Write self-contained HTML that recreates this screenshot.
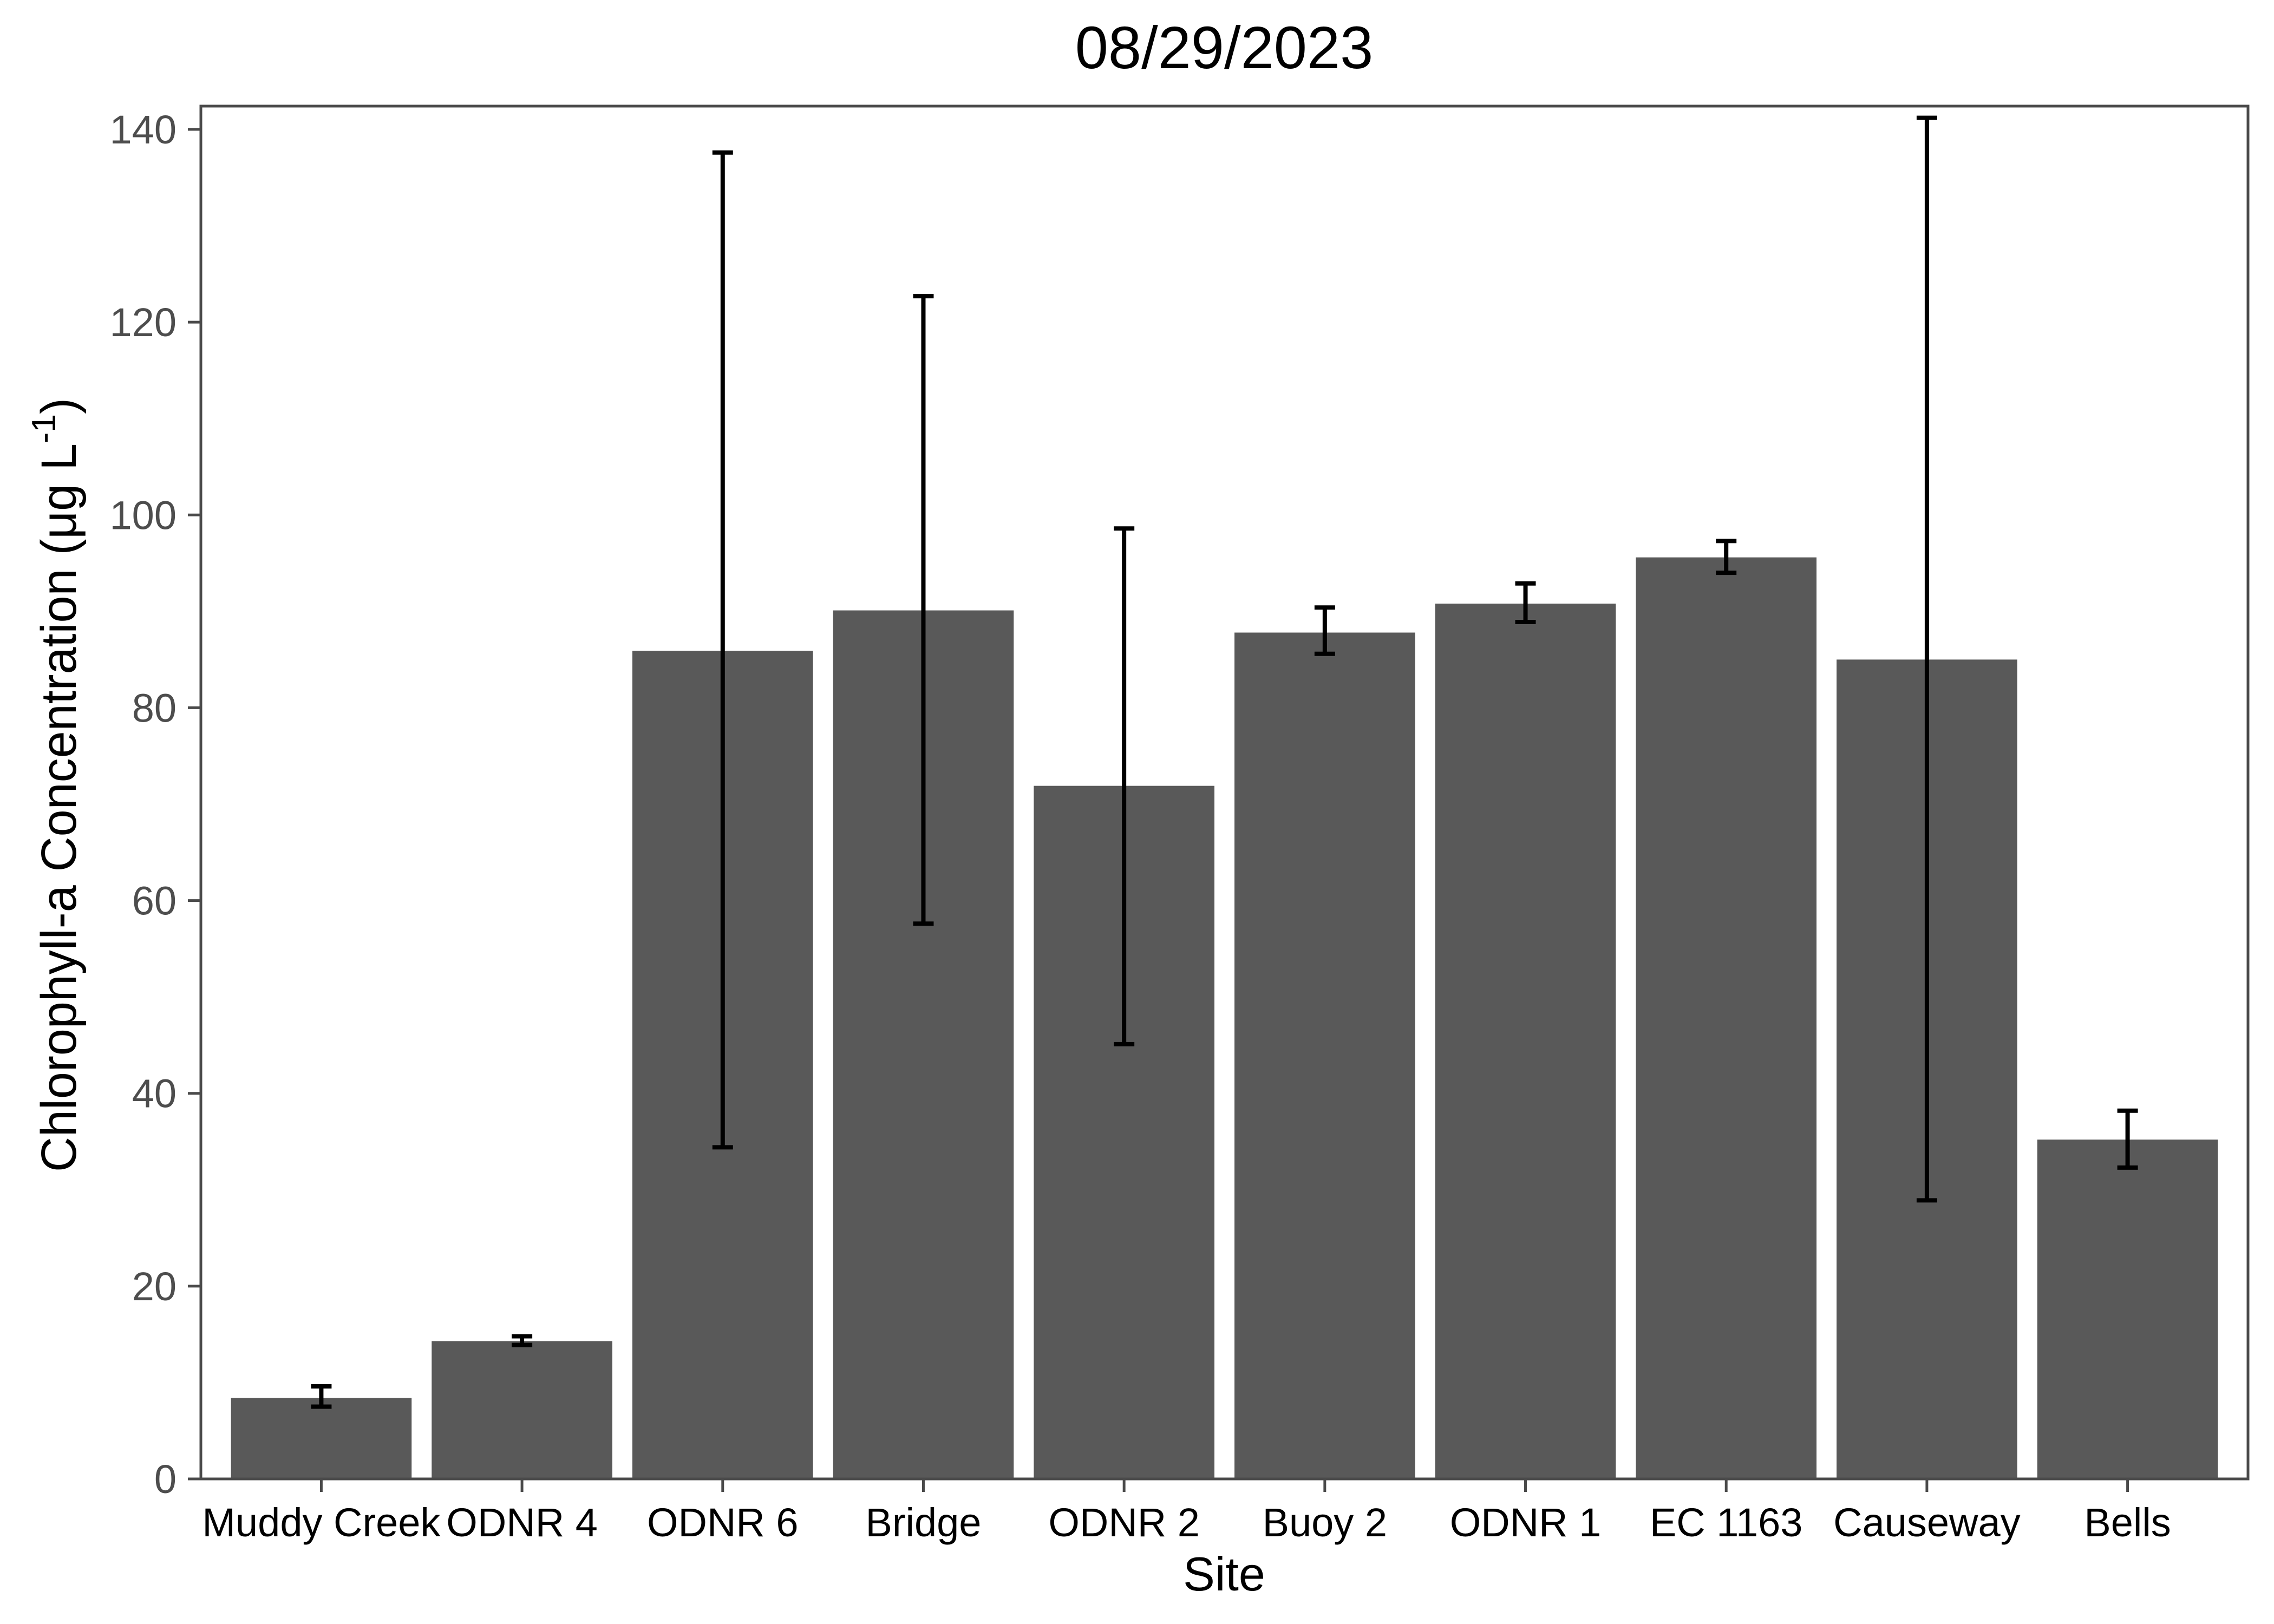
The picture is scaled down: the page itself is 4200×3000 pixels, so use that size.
<!DOCTYPE html>
<html><head><meta charset="utf-8"><style>
html,body{margin:0;padding:0;background:#fff;}
svg{display:block;font-family:"Liberation Sans",Arial,sans-serif;}
</style></head><body>
<svg id="chart" width="4200" height="3000" viewBox="0 0 4200 3000" xmlns="http://www.w3.org/2000/svg">
<rect x="0" y="0" width="4200" height="3000" fill="#fff"/>
<text x="2261" y="126" font-size="110" text-anchor="middle" fill="#000">08/29/2023</text>
<g id="bars"></g>
<g id="errs"></g>
<g id="axes"></g>
<rect x="371" y="196" width="3781" height="2536" fill="none" stroke="#4a4a4a" stroke-width="5"/>
<text x="2261" y="2938" font-size="88" text-anchor="middle" fill="#000">Site</text>
<text transform="translate(140,1450) rotate(-90)" font-size="92" text-anchor="middle" fill="#000" textLength="1430" lengthAdjust="spacingAndGlyphs">Chlorophyll-a Concentration (μg L<tspan font-size="62" dy="-38">-1</tspan><tspan dy="38">)</tspan></text>
</svg>
<script>
const categories = ["Muddy Creek","ODNR 4","ODNR 6","Bridge","ODNR 2","Buoy 2","ODNR 1","EC 1163","Causeway","Bells"];
const means = [8.4,14.3,85.9,90.1,71.9,87.8,90.8,95.6,85.0,35.2];
const upper = [9.6,14.8,137.6,122.7,98.6,90.4,92.9,97.3,141.2,38.2];
const lower = [7.5,13.9,34.4,57.6,45.1,85.6,88.9,94.0,28.9,32.3];
const yTicks = [0,20,40,60,80,100,120,140];

const NS = "http://www.w3.org/2000/svg";
const L = 371, R = 4152, Y0 = 2732, Y140 = 239;
const unit = (R - L) / (categories.length - 1 + 1.2);
function xScale(i){ return L + (0.6 + i) * unit; }
function yScale(v){ return Y0 - v * (Y0 - Y140) / 140; }
function mk(tag, attrs, parent){ const e = document.createElementNS(NS, tag); for (const k in attrs) e.setAttribute(k, attrs[k]); parent.appendChild(e); return e; }

const bars = document.getElementById('bars');
const errs = document.getElementById('errs');
const axes = document.getElementById('axes');
const bw = unit * 0.9;
categories.forEach((c, i) => {
  const cx = xScale(i);
  const b = mk('rect', {x: cx - bw/2, y: yScale(means[i]), width: bw, height: Y0 - yScale(means[i]), fill: '#595959'}, bars);
  
  
  const g = mk('g', {stroke: '#000', 'stroke-width': 8}, errs);
  
  
  mk('line', {x1: cx, x2: cx, y1: yScale(upper[i]), y2: yScale(lower[i])}, g);
  mk('line', {x1: cx - 19, x2: cx + 19, y1: yScale(upper[i]), y2: yScale(upper[i])}, g);
  mk('line', {x1: cx - 19, x2: cx + 19, y1: yScale(lower[i]), y2: yScale(lower[i])}, g);
  const t = mk('line', {x1: cx, x2: cx, y1: Y0, y2: Y0 + 24, stroke: '#4a4a4a', 'stroke-width': 5}, axes);
  
  
  const lb = mk('text', {x: cx, y: 2838, 'font-size': 74, 'text-anchor': 'middle', fill: '#000'}, axes);
  lb.textContent = c;
  
  
});
yTicks.forEach(v => {
  const y = yScale(v);
  const t = mk('line', {x1: L - 24, x2: L, y1: y, y2: y, stroke: '#4a4a4a', 'stroke-width': 5}, axes);
  
  
  const lb = mk('text', {x: 326, y: y + 26, 'font-size': 74, 'text-anchor': 'end', fill: '#4d4d4d'}, axes);
  lb.textContent = v;
  
  
});
</script>
</body></html>
